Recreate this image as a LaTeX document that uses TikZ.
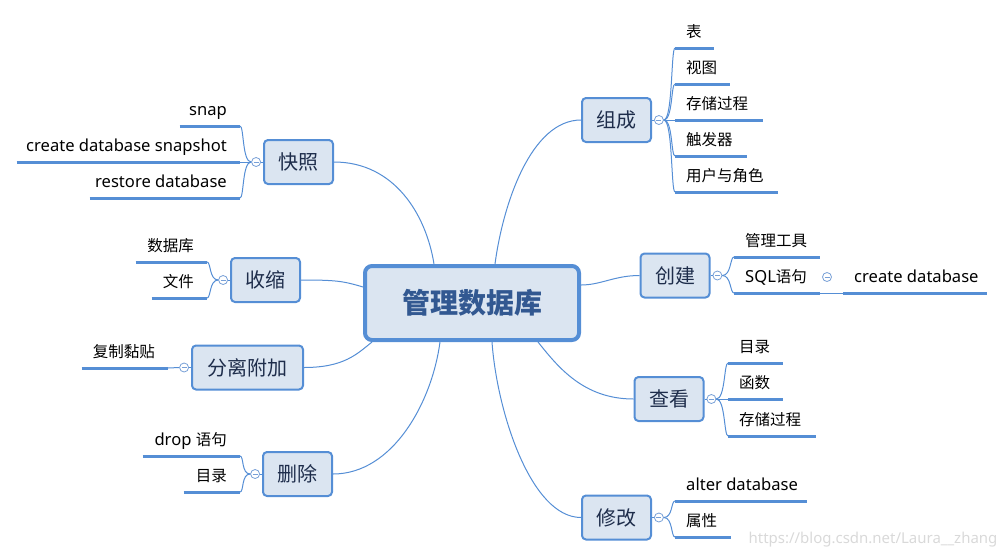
\documentclass[tikz,border=0pt]{standalone}
\usepackage{fontspec}
\setmainfont{Noto Sans CJK SC}
\newfontfamily\latinfont{Noto Sans}[Scale=1.07]
\usetikzlibrary{positioning}

\definecolor{lineblue}{RGB}{85,142,213}
\definecolor{topicfill}{RGB}{219,229,241}
\definecolor{topictext}{RGB}{30,45,75}
\definecolor{maintext}{RGB}{50,88,145}
\definecolor{foldblue}{RGB}{120,160,215}

\tikzset{
  central/.style={draw=lineblue, line width=4pt, fill=topicfill, rounded corners=7pt,
    minimum width=214pt, minimum height=74pt, text=maintext,
    font=\fontsize{28}{32}\selectfont\bfseries},
  topic/.style={draw=lineblue, line width=2pt, fill=topicfill, rounded corners=4pt,
    minimum width=69pt, minimum height=44pt, text=topictext,
    font=\fontsize{20}{24}\selectfont},
  fold/.style={circle, draw=foldblue, fill=white, line width=0.8pt, minimum size=9pt, inner sep=0pt,
    path picture={\draw[foldblue, line width=0.7pt] ([xshift=-2.5pt]path picture bounding box.center) -- ([xshift=2.5pt]path picture bounding box.center);}},
  uline/.style={draw=lineblue, line width=3pt},
  leafR/.style={anchor=south west, inner xsep=11pt, inner ysep=0pt, text height=12pt, text depth=10pt,
    font=\fontsize{15.5}{18}\selectfont,
    append after command={(\tikzlastnode.south west) edge[uline] (\tikzlastnode.south east)}},
  leafL/.style={leafR, anchor=south east, inner xsep=13pt},
  link/.style={draw=lineblue, line width=1pt},
}

\begin{document}
\begin{tikzpicture}[x=1pt, y=-1pt]
\useasboundingbox (0,0) rectangle (1005,558);

% centre and main topics
\node[central] (db) at (472,303) {管理数据库};
\node[topic] (zucheng) at (616.5,120) {组成};
\node[topic] (chuangjian) at (675,275.5) {创建};
\node[topic] (chakan) at (669,399) {查看};
\node[topic] (xiugai) at (616.5,517.5) {修改};
\node[topic] (kuaizhao) at (298.5,162) {快照};
\node[topic] (shousuo) at (265.5,280) {收缩};
\node[topic, minimum width=111pt] (fenli) at (247.5,367.5) {分离附加};
\node[topic] (shanchu) at (297.5,474) {删除};

\draw[link] (kuaizhao.east) .. controls +(60,0) and +(-8,-50) .. ([xshift=-38pt]db.north);
\draw[link] (zucheng.west) .. controls +(-50,0) and +(8,-60) .. ([xshift=23pt]db.north);
\draw[link] (chuangjian.west) .. controls +(-25,0) and +(20,0) .. ([yshift=18pt]db.east);
\draw[link] (chakan.west) .. controls +(-50,0) and +(20,25) .. ([xshift=66pt]db.south);
\draw[link] (xiugai.west) .. controls +(-50,0) and +(5,70) .. ([xshift=20pt]db.south);
\draw[link] (shanchu.east) .. controls +(60,0) and +(-8,60) .. ([xshift=-32pt]db.south);
\draw[link] (fenli.east) .. controls +(40,0) and +(-15,12) .. ([xshift=-100pt]db.south);
\draw[link] (shousuo.east) .. controls +(35,0) and +(-20,-6) .. ([yshift=16pt]db.west);

% right side leaves
\node[leafR] (zc1) at (675,48) {\makebox[17pt][l]{表}};
\node[leafR] (zc2) at (675,84) {\makebox[33pt][l]{视图}};
\node[leafR] (zc3) at (675,120) {\makebox[66pt][l]{存储过程}};
\node[leafR] (zc4) at (675,156) {\makebox[50pt][l]{触发器}};
\node[leafR] (zc5) at (675,192) {\makebox[81pt][l]{用户与角色}};

\node[leafR] (cj1) at (734,257) {\makebox[64pt][l]{管理工具}};
\node[leafR] (cj2) at (734,293) {\makebox[64pt][l]{{\latinfont SQL}语句}};
\node[leafR] (cj3) at (843,293) {\makebox[122pt][l]{\latinfont create database}};

\node[leafR] (ck1) at (728,363) {\makebox[33pt][l]{目录}};
\node[leafR] (ck2) at (728,399) {\makebox[33pt][l]{函数}};
\node[leafR] (ck3) at (728,436) {\makebox[66pt][l]{存储过程}};

\node[leafR] (xg1) at (675,501) {\makebox[110pt][l]{\latinfont alter database}};
\node[leafR] (xg2) at (675,537) {\makebox[34pt][l]{属性}};

% left side leaves
\node[leafL] (kz1) at (240,126) {\makebox[34pt][r]{\latinfont snap}};
\node[leafL] (kz2) at (240,162) {\makebox[197pt][r]{\latinfont create database snapshot}};
\node[leafL] (kz3) at (240,198) {\makebox[124pt][r]{\latinfont restore database}};

\node[leafL] (ss1) at (207,262) {\makebox[45pt][r]{数据库}};
\node[leafL] (ss2) at (207,298) {\makebox[29pt][r]{文件}};

\node[leafL] (fl1) at (168,368) {\makebox[60pt][r]{复制黏贴}};

\node[leafL] (sc1) at (240,456) {\makebox[71pt][r]{{\latinfont drop }语句}};
\node[leafL] (sc2) at (240,492) {\makebox[30pt][r]{目录}};

% fold markers
\node[fold, right=2pt of zucheng] (zucheng-f) {};
\node[fold, right=2pt of chuangjian] (chuangjian-f) {};
\node[fold, right=2pt of chakan] (chakan-f) {};
\node[fold, right=2pt of xiugai] (xiugai-f) {};
\node[fold, left=2pt of kuaizhao] (kuaizhao-f) {};
\node[fold, left=2pt of shousuo] (shousuo-f) {};
\node[fold, left=2pt of fenli] (fenli-f) {};
\node[fold, left=2pt of shanchu] (shanchu-f) {};
\node[fold] (cj2-f) at (827,277) {};

\draw[link] (zucheng) -- (zucheng-f);
\draw[link] (chuangjian) -- (chuangjian-f);
\draw[link] (chakan) -- (chakan-f);
\draw[link] (xiugai) -- (xiugai-f);
\draw[link] (kuaizhao) -- (kuaizhao-f);
\draw[link] (shousuo) -- (shousuo-f);
\draw[link] (fenli) -- (fenli-f);
\draw[link] (shanchu) -- (shanchu-f);

\draw[link] (zucheng-f.east) .. controls +(9,0) and +(-4,0) .. (zc1.south west);
\draw[link] (zucheng-f.east) .. controls +(9,0) and +(-4,0) .. (zc2.south west);
\draw[link] (zucheng-f.east) -- (zc3.south west);
\draw[link] (zucheng-f.east) .. controls +(9,0) and +(-4,0) .. (zc4.south west);
\draw[link] (zucheng-f.east) .. controls +(9,0) and +(-4,0) .. (zc5.south west);
\draw[link] (chuangjian-f.east) .. controls +(9,0) and +(-4,0) .. (cj1.south west);
\draw[link] (chuangjian-f.east) .. controls +(9,0) and +(-4,0) .. (cj2.south west);
\draw[link] (cj2.south east) -- (cj3.south west);
\draw[link] (chakan-f.east) .. controls +(9,0) and +(-4,0) .. (ck1.south west);
\draw[link] (chakan-f.east) -- (ck2.south west);
\draw[link] (chakan-f.east) .. controls +(9,0) and +(-4,0) .. (ck3.south west);
\draw[link] (xiugai-f.east) .. controls +(9,0) and +(-4,0) .. (xg1.south west);
\draw[link] (xiugai-f.east) .. controls +(9,0) and +(-4,0) .. (xg2.south west);

\draw[link] (kuaizhao-f.west) .. controls +(-9,0) and +(4,0) .. (kz1.south east);
\draw[link] (kuaizhao-f.west) -- (kz2.south east);
\draw[link] (kuaizhao-f.west) .. controls +(-9,0) and +(4,0) .. (kz3.south east);
\draw[link] (shousuo-f.west) .. controls +(-9,0) and +(4,0) .. (ss1.south east);
\draw[link] (shousuo-f.west) .. controls +(-9,0) and +(4,0) .. (ss2.south east);
\draw[link] (fenli-f.west) -- (fl1.south east);
\draw[link] (shanchu-f.west) .. controls +(-9,0) and +(4,0) .. (sc1.south east);
\draw[link] (shanchu-f.west) .. controls +(-9,0) and +(4,0) .. (sc2.south east);

\node[text=gray!30, font=\latinfont\fontsize{14}{17}\selectfont] (mark) at (873,540) {https://blog.csdn.net/Laura\_\_zhang};
\end{tikzpicture}
\end{document}
